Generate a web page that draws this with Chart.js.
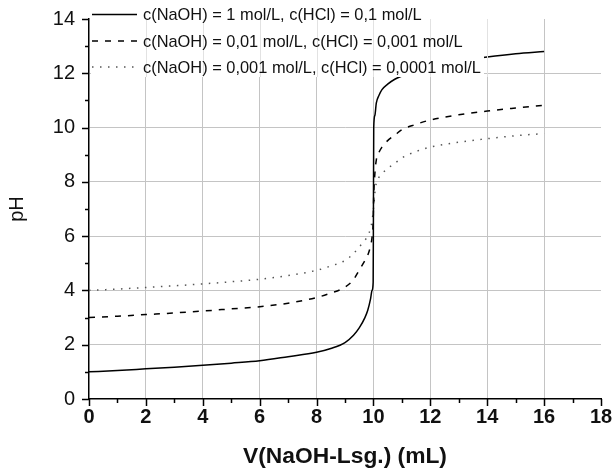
<!DOCTYPE html>
<html>
<head>
<meta charset="utf-8">
<script src="https://cdn.jsdelivr.net/npm/chart.js@4.4.1/dist/chart.umd.min.js"></script>
<style>
  body { margin: 0; background: #fff; }
</style>
</head>
<body>
<canvas id="titrationChart" width="613" height="475"></canvas>
<script>
// values
const volume = [0, 1, 2, 3, 4, 5, 6, 7, 8, 8.5, 9, 9.3, 9.5, 9.7, 9.8, 9.9, 9.95, 9.99, 10,
  10.01, 10.05, 10.1, 10.2, 10.3, 10.5, 10.75, 11, 11.5, 12, 13, 14, 15, 16];

const phStrong = [1.00, 1.05, 1.11, 1.17, 1.24, 1.32, 1.41, 1.56, 1.72, 1.86, 2.08, 2.35, 2.62, 3.0, 3.27, 3.7, 4.0, 4.3, 7.0,
  10.0, 10.45, 10.9, 11.2, 11.4, 11.6, 11.78, 11.9, 12.1, 12.25, 12.45, 12.6, 12.72, 12.8];

const phMedium = [3.0, 3.05, 3.11, 3.17, 3.24, 3.32, 3.4, 3.53, 3.74, 3.9, 4.12, 4.4, 4.75, 5.1, 5.3, 5.65, 5.95, 6.5, 7.0,
  7.5, 8.3, 8.8, 9.1, 9.28, 9.52, 9.72, 9.92, 10.12, 10.28, 10.47, 10.61, 10.72, 10.82];

const phWeak = [4.0, 4.05, 4.11, 4.17, 4.24, 4.32, 4.41, 4.55, 4.74, 4.9, 5.1, 5.36, 5.6, 5.85, 6.0, 6.3, 6.55, 6.9, 7.0,
  7.1, 7.6, 7.95, 8.18, 8.3, 8.5, 8.68, 8.88, 9.12, 9.28, 9.46, 9.59, 9.7, 9.78];

const seriesLabels = [
  'c(NaOH) = 1 mol/L, c(HCl) = 0,1 mol/L',
  'c(NaOH) = 0,01 mol/L, c(HCl) = 0,001 mol/L',
  'c(NaOH) = 0,001 mol/L, c(HCl) = 0,0001 mol/L'
];

const xTickValues = [0, 2, 4, 6, 8, 10, 12, 14, 16, 18];
const yTickValues = [0, 2, 4, 6, 8, 10, 12, 14];

const toPoints = values => values.map((v, i) => ({ x: volume[i], y: v }));

const lineStyles = [
  { color: '#000', dash: [], width: 1.5 },
  { color: '#000', dash: [6, 7], width: 1.5 },
  { color: '#555', dash: [1.5, 6.5], width: 1.5 }
];

// tick marks (major + minor) drawn outside the axes
const axisTicks = {
  id: 'axisTicks',
  afterDraw(chart) {
    const { ctx, chartArea, scales: { x, y } } = chart;
    ctx.save();
    ctx.strokeStyle = '#000';
    ctx.lineWidth = 1.5;
    ctx.beginPath();
    xTickValues.forEach((v, i) => {
      const px = Math.round(x.getPixelForValue(v)) + 0.5;
      ctx.moveTo(px, chartArea.bottom);
      ctx.lineTo(px, chartArea.bottom + 7);
      if (i < xTickValues.length - 1) {
        const mx = Math.round(x.getPixelForValue((v + xTickValues[i + 1]) / 2)) + 0.5;
        ctx.moveTo(mx, chartArea.bottom);
        ctx.lineTo(mx, chartArea.bottom + 4);
      }
    });
    yTickValues.forEach((v, i) => {
      const py = Math.round(y.getPixelForValue(v)) + 0.5;
      ctx.moveTo(chartArea.left, py);
      ctx.lineTo(chartArea.left - 7, py);
      if (i < yTickValues.length - 1) {
        const my = Math.round(y.getPixelForValue((v + yTickValues[i + 1]) / 2)) + 0.5;
        ctx.moveTo(chartArea.left, my);
        ctx.lineTo(chartArea.left - 4, my);
      }
    });
    ctx.stroke();
    ctx.restore();
  }
};

// legend box inside the plot, top left
const boxLegend = {
  id: 'boxLegend',
  afterDatasetsDraw(chart) {
    const { ctx, chartArea, scales: { x } } = chart;
    const left = chartArea.left + 2;
    ctx.save();
    ctx.fillStyle = '#fff';
    ctx.fillRect(left, 0, 393, 77);

    // faint grid behind the legend text
    ctx.strokeStyle = '#e2e2e2';
    ctx.lineWidth = 1;
    ctx.beginPath();
    xTickValues.slice(1, 8).forEach(v => {
      const px = Math.round(x.getPixelForValue(v)) + 0.5;
      ctx.moveTo(px, chartArea.top);
      ctx.lineTo(px, 77);
    });
    ctx.stroke();

    const rows = [14.5, 41, 67];
    seriesLabels.forEach((label, i) => {
      const st = lineStyles[i];
      ctx.beginPath();
      ctx.strokeStyle = st.color;
      ctx.lineWidth = st.width;
      ctx.setLineDash(st.dash);
      ctx.moveTo(92, rows[i]);
      ctx.lineTo(137, rows[i]);
      ctx.stroke();
      ctx.setLineDash([]);
      ctx.fillStyle = '#111';
      ctx.font = '16.4px "Liberation Sans", Arial, sans-serif';
      ctx.textBaseline = 'middle';
      ctx.textAlign = 'left';
      ctx.fillText(label, 143, rows[i] + 1);
    });
    ctx.restore();
  }
};

const ctx = document.getElementById('titrationChart').getContext('2d');
const titrationChart = new Chart(ctx, {
  type: 'line',
  data: {
    datasets: [phStrong, phMedium, phWeak].map((values, i) => ({
      label: seriesLabels[i],
      data: toPoints(values),
      borderColor: lineStyles[i].color,
      borderWidth: lineStyles[i].width,
      borderDash: lineStyles[i].dash,
      pointRadius: 0,
      fill: false,
      cubicInterpolationMode: 'monotone'
    }))
  },
  options: {
    responsive: false,
    animation: false,
    devicePixelRatio: 1,
    layout: { padding: { left: 0, right: 12, top: 19, bottom: 0 } },
    plugins: {
      legend: { display: false },
      tooltip: { enabled: false }
    },
    scales: {
      x: {
        type: 'linear',
        min: 0,
        max: 18,
        afterBuildTicks: scale => { scale.ticks = xTickValues.map(v => ({ value: v })); },
        afterFit: scale => { scale.height = 76; },
        grid: {
          color: c => (c.tick && c.tick.value > 0 && c.tick.value < 18) ? '#c4c4c4' : 'rgba(0,0,0,0)',
          tickLength: 6,
          tickColor: 'rgba(0,0,0,0)'
        },
        border: { color: '#000', width: 1.5 },
        ticks: {
          color: '#111',
          padding: 0,
          maxRotation: 0,
          font: { family: '"Liberation Sans Narrow", "Liberation Sans", Arial, sans-serif', size: 20, weight: 'bold' }
        },
        title: {
          display: true,
          text: 'V(NaOH-Lsg.) (mL)',
          color: '#111',
          padding: { top: 4, bottom: 5 },
          font: { family: '"Liberation Sans", Arial, sans-serif', size: 22.8, weight: 'bold' }
        }
      },
      y: {
        min: 0,
        max: 14,
        afterBuildTicks: scale => { scale.ticks = yTickValues.map(v => ({ value: v })); },
        afterFit: scale => { scale.width = 89; },
        grid: {
          color: c => (c.tick && c.tick.value > 0 && c.tick.value < 14) ? '#c4c4c4' : 'rgba(0,0,0,0)',
          tickLength: 7,
          tickColor: 'rgba(0,0,0,0)'
        },
        border: { color: '#000', width: 1.5 },
        ticks: {
          color: '#111',
          padding: 7,
          font: { family: '"Liberation Sans", Arial, sans-serif', size: 20 }
        },
        title: {
          display: true,
          text: 'pH',
          color: '#111',
          padding: { top: 5, bottom: 0 },
          font: { family: '"Liberation Sans", Arial, sans-serif', size: 20 }
        }
      }
    }
  },
  plugins: [axisTicks, boxLegend]
});
</script>
</body>
</html>
